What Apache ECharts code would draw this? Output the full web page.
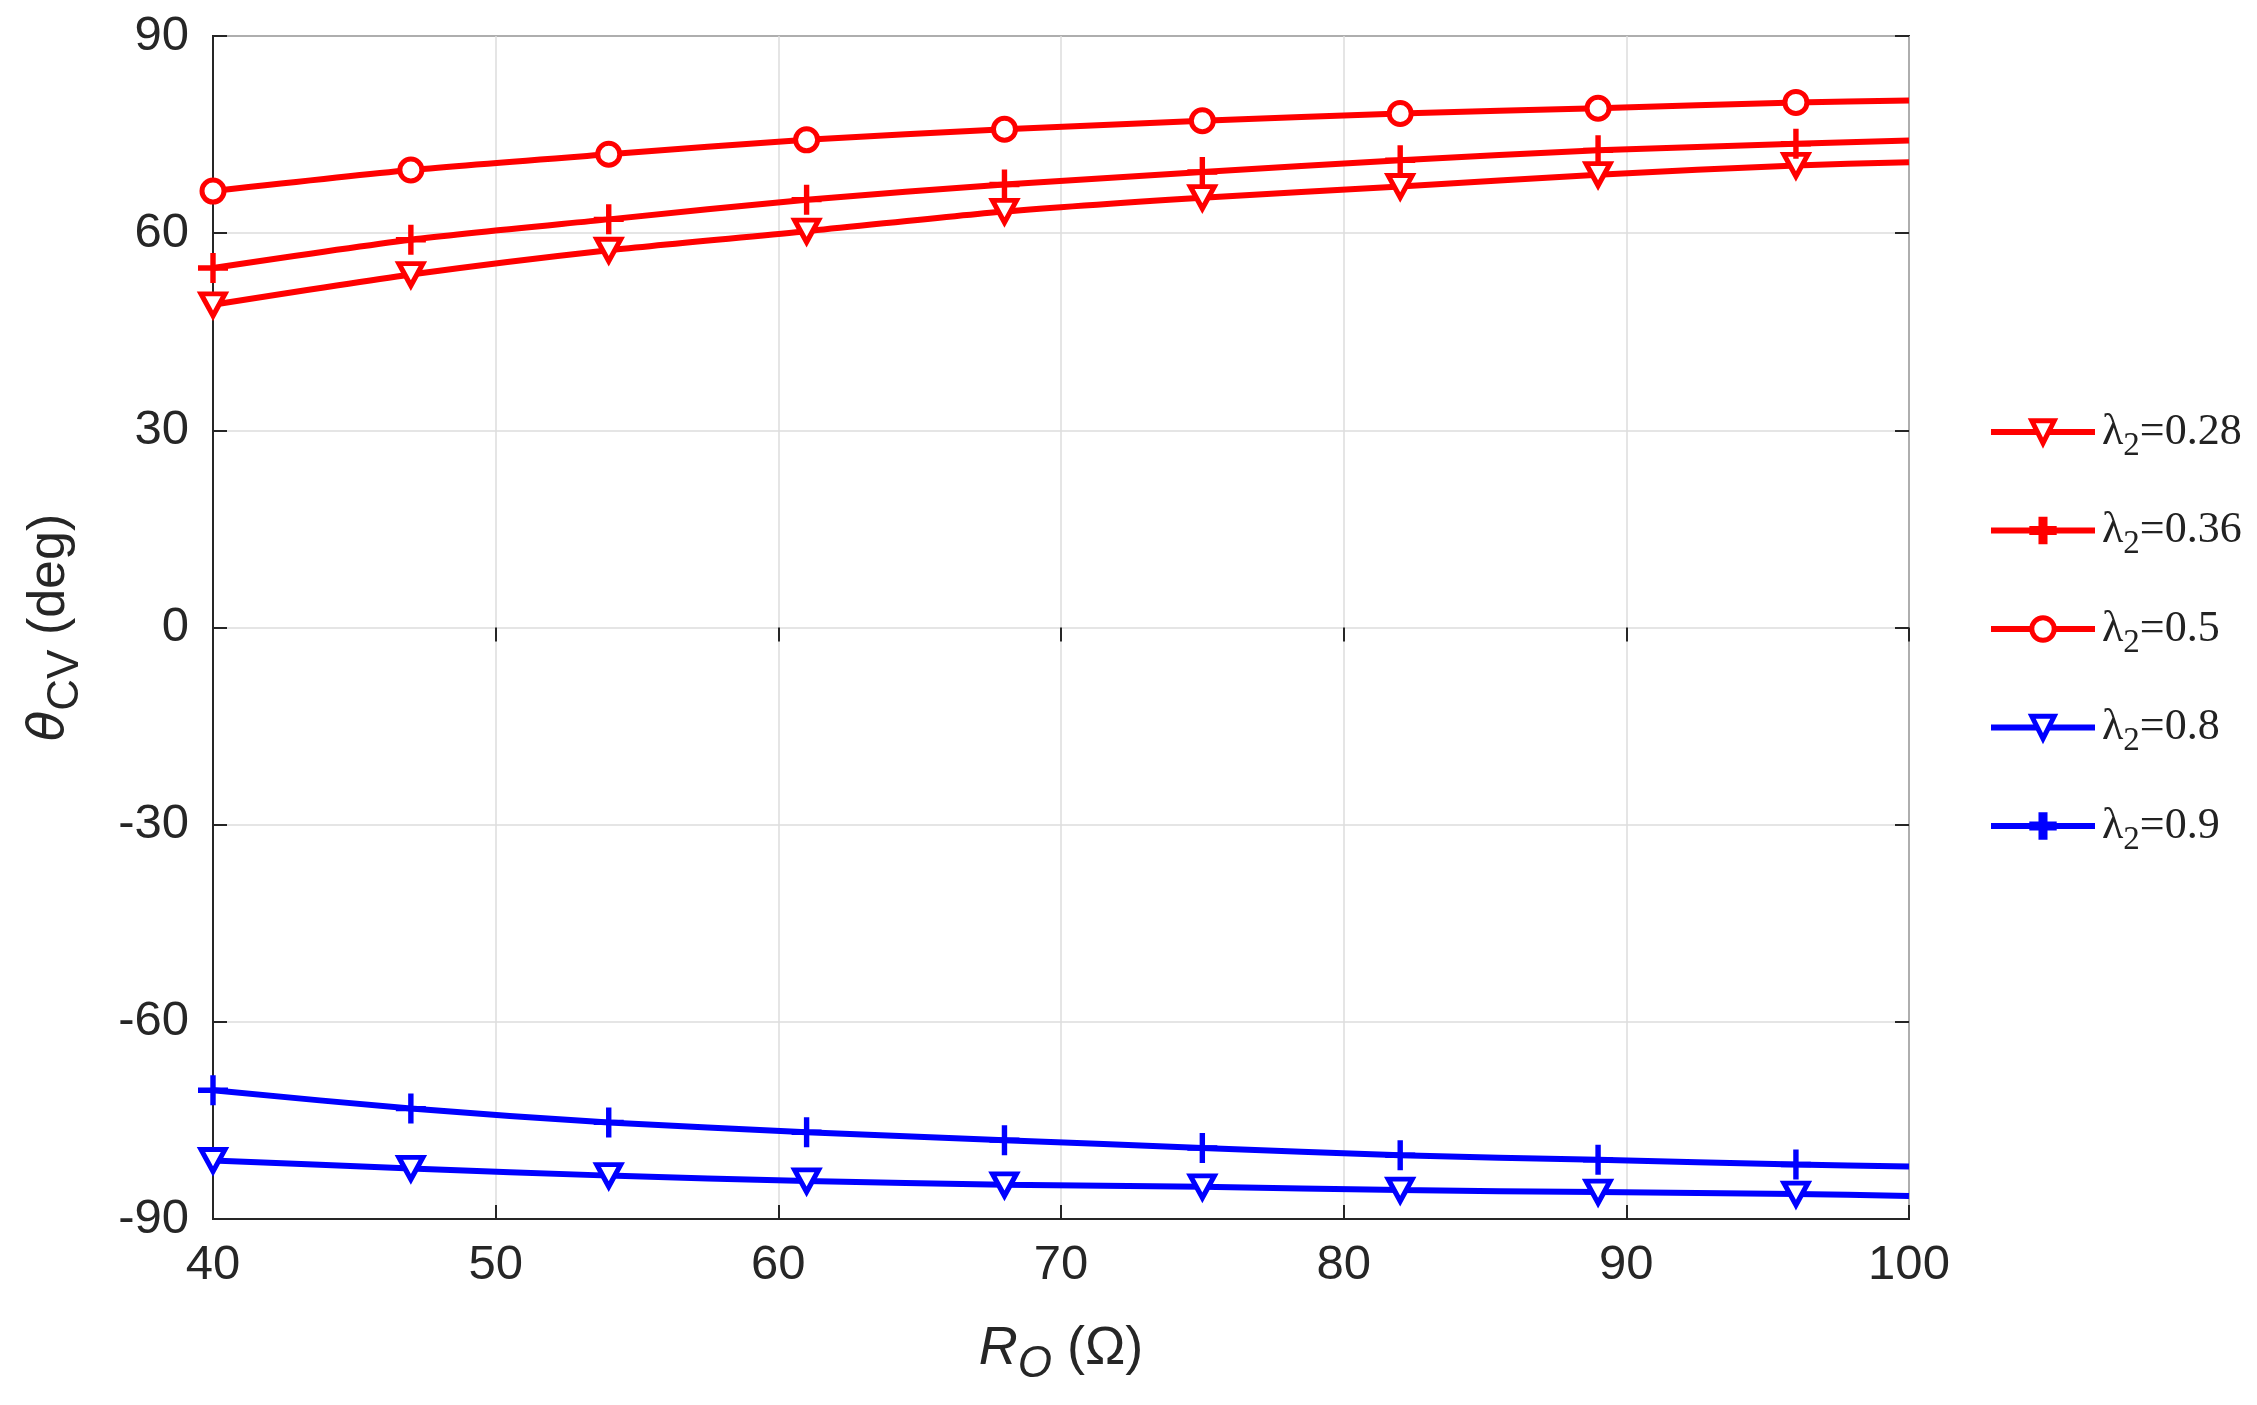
<!DOCTYPE html>
<html>
<head>
<meta charset="utf-8">
<script src="https://cdn.jsdelivr.net/npm/echarts@6/dist/echarts.min.js"></script>
<style>
html, body { margin: 0; padding: 0; background: #fff; }
#chart { width: 2257px; height: 1405px; }
</style>
</head>
<body>
<div id="chart"></div>
<script>
// R_O values (ohm), markers every 7 ohm, curve ends at 100
var rValues = [40, 47, 54, 61, 68, 75, 82, 89, 96, 100];
var xTicks = [40, 50, 60, 70, 80, 90, 100];
var yTicks = [-90, -60, -30, 0, 30, 60, 90];

// theta_CV (deg) for each lambda_2
var lam028 = [49.1, 53.7, 57.4, 60.3, 63.3, 65.4, 67.1, 68.9, 70.3, 70.8];
var lam036 = [54.7, 59.0, 62.1, 65.1, 67.4, 69.3, 71.1, 72.6, 73.6, 74.1];
var lam05  = [66.4, 69.6, 72.0, 74.2, 75.8, 77.1, 78.2, 79.0, 79.9, 80.2];
var lam08  = [-81.1, -82.3, -83.4, -84.2, -84.8, -85.1, -85.6, -85.9, -86.2, -86.5];
var lam09  = [-70.4, -73.2, -75.3, -76.8, -78.0, -79.2, -80.3, -81.0, -81.7, -82.0];

var lamNames = ['0.28', '0.36', '0.5', '0.8', '0.9'];

var plusPath = 'path://M-1.8,-10 L1.8,-10 L1.8,-1.8 L10,-1.8 L10,1.8 L1.8,1.8 L1.8,10 L-1.8,10 L-1.8,1.8 L-10,1.8 L-10,-1.8 L-1.8,-1.8 Z';

var myChart = echarts.init(document.getElementById('chart'));

function makeData(vals) {
    var res = [];
    for (var i = 0; i < vals.length; i++) {
        if (rValues[i] === 100) {
            res.push({ value: [rValues[i], vals[i]], symbol: 'none' });
        } else {
            res.push([rValues[i], vals[i]]);
        }
    }
    return res;
}

function makeSeries(name, vals, color, kind) {
    var s = {
        name: name,
        type: 'line',
        smooth: 0.25,
        data: makeData(vals),
        lineStyle: { color: color, width: 6 },
        itemStyle: { color: color },
        showAllSymbol: true,
        z: 3
    };
    if (kind === 'tri') {
        s.symbol = 'triangle';
        s.symbolRotate = 180;
        s.symbolSize = [24, 22];
        s.itemStyle = { color: '#fff', borderColor: color, borderWidth: 5 };
    } else if (kind === 'circle') {
        s.symbol = 'circle';
        s.symbolSize = 22;
        s.itemStyle = { color: '#fff', borderColor: color, borderWidth: 5 };
    } else {
        s.symbol = plusPath;
        s.symbolSize = 30;
        s.itemStyle = { color: color, borderColor: color, borderWidth: 0 };
    }
    return s;
}

var seriesNames = lamNames.map(function (v) { return 'λ2=' + v; });

var axisColor = '#262626';
var labelFont = { fontFamily: 'Liberation Sans', fontSize: 49, color: axisColor };

option = {
    backgroundColor: '#fff',
    animation: false,
    grid: {
        left: 213, right: 348, top: 36, bottom: 186,
        outerBoundsMode: 'none',
        show: true, borderColor: axisColor, borderWidth: 2
    },
    legend: {
        orient: 'vertical',
        left: 1983,
        top: 405,
        itemWidth: 104,
        itemHeight: 28,
        itemGap: 46,
        data: seriesNames,
        lineStyle: { width: 6 },
        itemStyle: { borderWidth: 5 },
        formatter: function (name) {
            return '{l|λ}{s|2}{l|' + name.slice(2) + '}';
        },
        textStyle: {
            padding: [0, 0, 0, 2],
            rich: {
                l: { fontFamily: 'Liberation Serif', fontSize: 44, color: '#222' },
                s: { fontFamily: 'Liberation Serif', fontSize: 33, color: '#222', padding: [28, 0, 0, 0] }
            }
        }
    },
    xAxis: [{
        type: 'value',
        min: 40, max: 100, interval: 10,
        name: '{i|R}{si|O}{n|\u00a0(Ω)}',
        nameLocation: 'middle',
        nameGap: 92,
        nameTextStyle: {
            rich: {
                i: { fontFamily: 'Liberation Sans', fontStyle: 'italic', fontSize: 54, color: axisColor },
                si: { fontFamily: 'Liberation Sans', fontStyle: 'italic', fontSize: 44, color: axisColor, padding: [32, 0, 0, 0] },
                n: { fontFamily: 'Liberation Sans', fontSize: 54, color: axisColor }
            }
        },
        axisLine: { show: true, onZero: false, lineStyle: { color: axisColor, width: 2 } },
        axisTick: { show: true, inside: true, length: 14, lineStyle: { color: axisColor, width: 2 } },
        axisLabel: Object.assign({ margin: 22 }, labelFont),
        splitLine: { show: true, lineStyle: { color: '#dcdcdc', width: 1.5 } }
    }, {
        type: 'value',
        position: 'top',
        min: 40, max: 100, interval: 10,
        axisLine: { show: false },
        axisTick: { show: true, inside: true, length: 14, lineStyle: { color: axisColor, width: 2 } },
        axisLabel: { show: false },
        splitLine: { show: false }
    }],
    yAxis: [{
        type: 'value',
        min: -90, max: 90, interval: 30,
        name: '{t|θ}{sb|CV}{n|\u00a0(deg)}',
        nameLocation: 'middle',
        nameRotate: 90,
        nameGap: 125,
        nameTextStyle: {
            rich: {
                t: { fontFamily: 'DejaVu Sans', fontStyle: 'italic', fontSize: 50, color: axisColor },
                sb: { fontFamily: 'Liberation Sans', fontSize: 44, color: axisColor, padding: [32, 0, 0, 0] },
                n: { fontFamily: 'Liberation Sans', fontSize: 52, color: axisColor }
            }
        },
        axisLine: { show: true, onZero: false, lineStyle: { color: axisColor, width: 2 } },
        axisTick: { show: true, inside: true, length: 14, lineStyle: { color: axisColor, width: 2 } },
        axisLabel: Object.assign({ margin: 24 }, labelFont),
        splitLine: { show: true, lineStyle: { color: '#dcdcdc', width: 1.5 } }
    }, {
        type: 'value',
        position: 'right',
        min: -90, max: 90, interval: 30,
        axisLine: { show: false },
        axisTick: { show: true, inside: true, length: 14, lineStyle: { color: axisColor, width: 2 } },
        axisLabel: { show: false },
        splitLine: { show: false }
    }],
    series: [
        makeSeries(seriesNames[0], lam028, '#ff0000', 'tri'),
        makeSeries(seriesNames[1], lam036, '#ff0000', 'plus'),
        makeSeries(seriesNames[2], lam05, '#ff0000', 'circle'),
        makeSeries(seriesNames[3], lam08, '#0000ff', 'tri'),
        makeSeries(seriesNames[4], lam09, '#0000ff', 'plus')
    ]
};

myChart.setOption(option);
window.addEventListener("resize", function () {
    myChart.resize();
});
</script>
</body>
</html>
